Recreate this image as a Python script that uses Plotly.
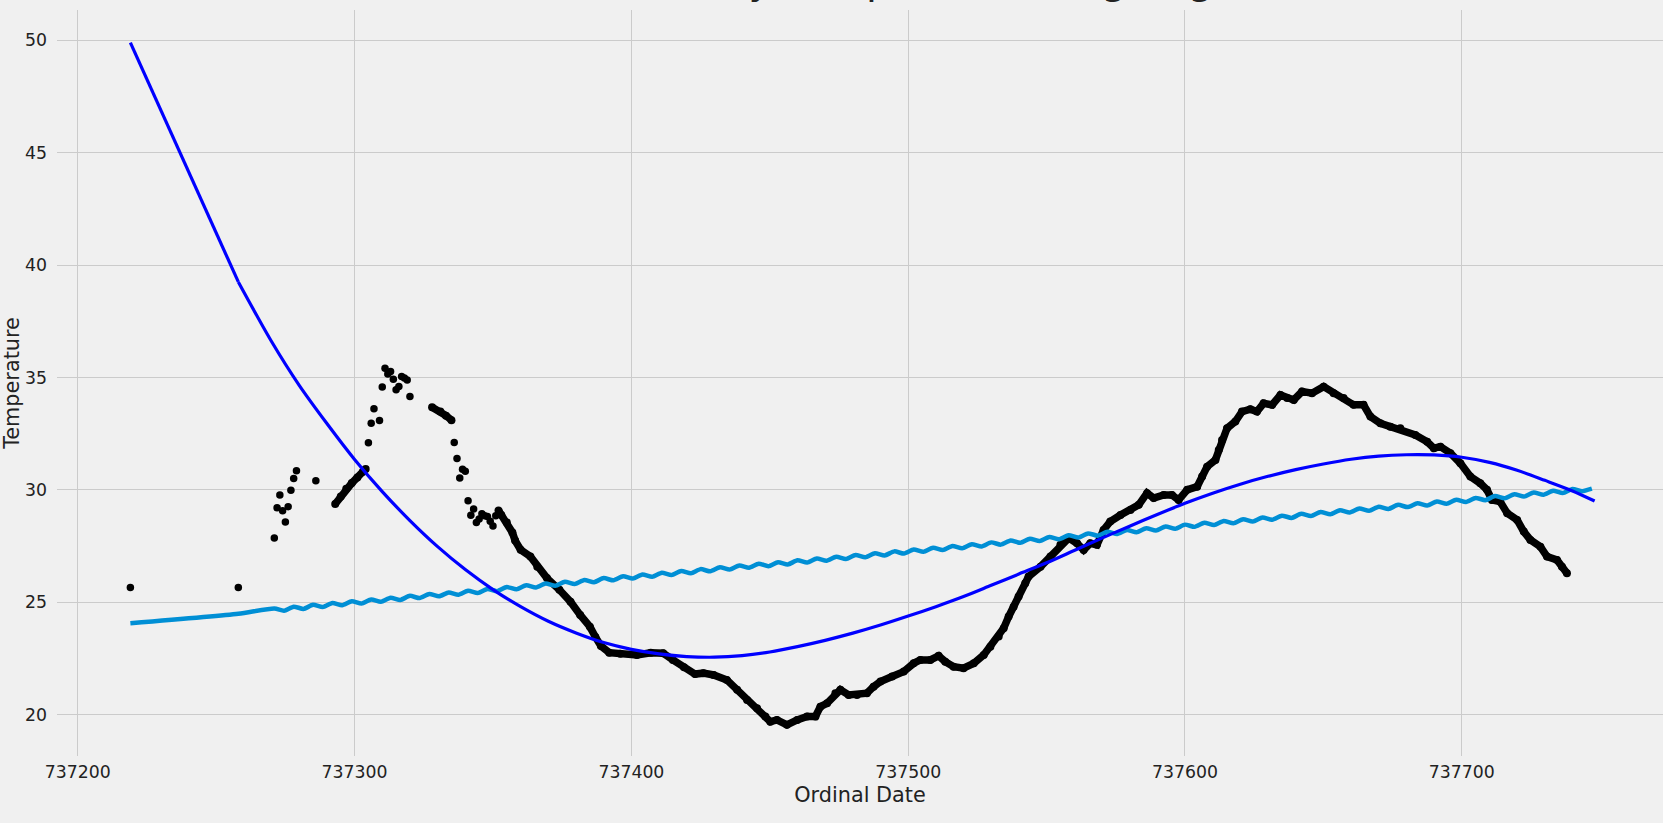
import plotly.graph_objects as go

# ---------------- data ----------------
# isolated (non-continuous) observed points
sparse_x = [737219, 737258, 737271, 737272, 737273, 737274, 737275, 737276, 737277, 737278,
            737279, 737286, 737305, 737306, 737307, 737309, 737310, 737311, 737312, 737313,
            737314, 737315, 737316, 737317, 737318, 737319, 737320, 737336, 737337, 737338,
            737339, 737340, 737341, 737342, 737343, 737344, 737345, 737346, 737347, 737348,
            737349, 737350, 737351]
sparse_y = [25.65, 25.65, 27.85, 29.2, 29.77, 29.07, 28.57, 29.25, 29.98, 30.5,
            30.85, 30.4, 32.09, 32.96, 33.61, 33.08, 34.58, 35.41, 35.15, 35.26,
            34.92, 34.45, 34.6, 35.04, 34.98, 34.89, 34.15, 32.1, 31.39, 30.53,
            30.92, 30.83, 29.51, 28.87, 29.14, 28.54, 28.7, 28.93, 28.85, 28.81,
            28.6, 28.39, 28.85]

# dense (daily) observed stretches, read along the dotted band
chainA_x = [737293, 737295, 737297, 737299, 737301, 737303, 737304]
chainA_y = [29.37, 29.7, 30.05, 30.3, 30.55, 30.8, 30.93]
chainB_x = [737328, 737331, 737333, 737335]
chainB_y = [33.67, 33.48, 33.3, 33.1]
chainC_x = [737352, 737353, 737355, 737357, 737358, 737360, 737363.5, 737366, 737369.5, 737374,
            737378, 737381.5, 737385, 737387, 737389, 737392, 737396, 737402, 737407, 737411.5,
            737415, 737419, 737423, 737426, 737429.7, 737434.5, 737438.2, 737441.8, 737445.4, 737448.4,
            737450.2, 737452.6, 737456.2, 737459.9, 737463.5, 737466.5, 737468.3, 737470.7, 737473.7, 737475.5,
            737478.5, 737481.5, 737485.1, 737487.5, 737490, 737494.2, 737498.4, 737502, 737504.4, 737508,
            737511, 737513.4, 737516.4, 737520, 737523.7, 737527.3, 737529.7, 737532.7, 737534.5, 737536.3,
            737538.1, 737539.9, 737542.3, 737543.5, 737547.8, 737551.4, 737555, 737558, 737561, 737563.4,
            737565.8, 737568.2, 737570.6, 737573, 737576.7, 737580.3, 737583.3, 737586.3, 737588.7, 737592.3,
            737595.3, 737597.7, 737600.8, 737604.4, 737606.2, 737608, 737611, 737612.2, 737613.4, 737615.2,
            737618.2, 737620.6, 737623.6, 737626, 737628.4, 737631.5, 737634.5, 737636.9, 737639.3, 737642.3,
            737645.9, 737650.1, 737653.7, 737657.3, 737660.9, 737664.5, 737667, 737670.6, 737674.2, 737677.8,
            737683.2, 737687.5, 737689.9, 737692.3, 737695.9, 737699.5, 737703.1, 737706.7, 737709.1, 737710.9,
            737713.9, 737716.4, 737720, 737722.4, 737724.8, 737728.4, 737730.8, 737734.4, 737736.2, 737738]
chainC_y = [29.08, 28.88, 28.55, 28.1, 27.74, 27.33, 27.03, 26.58, 26.07, 25.55,
            25.02, 24.43, 23.91, 23.45, 23.05, 22.75, 22.7, 22.65, 22.75, 22.73,
            22.43, 22.1, 21.8, 21.84, 21.76, 21.54, 21.1, 20.65, 20.28, 19.91,
            19.68, 19.76, 19.54, 19.76, 19.91, 19.91, 20.35, 20.5, 20.95, 21.1,
            20.87, 20.87, 20.95, 21.24, 21.47, 21.69, 21.91, 22.28, 22.43, 22.43,
            22.61, 22.35, 22.13, 22.06, 22.28, 22.65, 23.02, 23.47, 23.84, 24.36,
            24.8, 25.25, 25.84, 26.14, 26.58, 27.03, 27.55, 27.85, 27.62, 27.32,
            27.62, 27.55, 28.21, 28.59, 28.88, 29.1, 29.33, 29.85, 29.63, 29.77,
            29.77, 29.55, 30.0, 30.14, 30.59, 31.03, 31.33, 31.77, 32.22, 32.74,
            33.04, 33.48, 33.59, 33.48, 33.85, 33.78, 34.22, 34.08, 34.0, 34.37,
            34.3, 34.59, 34.3, 34.08, 33.78, 33.78, 33.26, 32.96, 32.81, 32.74,
            32.44, 32.14, 31.85, 31.92, 31.63, 31.18, 30.59, 30.29, 30.0, 29.55,
            29.47, 28.96, 28.66, 28.14, 27.77, 27.47, 27.03, 26.88, 26.58, 26.29]

# polynomial fit (dark blue): straight first stretch over the data gap, then the curve
gap_x = [737219, 737258]
gap_y = [49.9, 39.25]
poly_x = [737258, 737270, 737280, 737290, 737300, 737310, 737320, 737330, 737340,
          737350, 737360, 737370, 737380, 737390, 737400, 737410, 737420, 737430, 737440,
          737450, 737460, 737470, 737480, 737490, 737500, 737510, 737520, 737530, 737540,
          737550, 737560, 737570, 737580, 737590, 737600, 737610, 737620, 737630, 737640,
          737650, 737660, 737670, 737680, 737690, 737700, 737710, 737720, 737730, 737740, 737748]
poly_y = [39.25, 36.6, 34.65, 32.95, 31.35, 29.92, 28.63, 27.47, 26.45,
          25.56, 24.8, 24.15, 23.63, 23.2, 22.9, 22.7, 22.58, 22.55, 22.62,
          22.78, 23.02, 23.3, 23.62, 23.98, 24.38, 24.8, 25.25, 25.75, 26.25,
          26.75, 27.3, 27.85, 28.38, 28.9, 29.4, 29.85, 30.25, 30.6, 30.9,
          31.15, 31.36, 31.5, 31.56, 31.55, 31.45, 31.22, 30.87, 30.42, 29.95, 29.5]

# second model (light blue): peaks / troughs of its weekly ripple
ripple_x = [737219, 737258] + [737271 + 3.5 * k for k in range(137)]
ripple_y = [24.06, 24.48,
            24.72, 24.62, 24.80, 24.70, 24.88, 24.78, 24.96, 24.86, 25.04, 24.94,
            25.12, 25.02, 25.20, 25.10, 25.28, 25.18, 25.36, 25.26, 25.43, 25.33,
            25.51, 25.41, 25.59, 25.49, 25.67, 25.57, 25.75, 25.65, 25.83, 25.73,
            25.91, 25.81, 25.99, 25.89, 26.07, 25.97, 26.15, 26.05, 26.23, 26.13,
            26.31, 26.21, 26.39, 26.29, 26.47, 26.37, 26.55, 26.45, 26.63, 26.53,
            26.71, 26.60, 26.78, 26.68, 26.86, 26.76, 26.94, 26.84, 27.02, 26.92,
            27.10, 27.00, 27.18, 27.08, 27.26, 27.16, 27.34, 27.24, 27.42, 27.32,
            27.50, 27.40, 27.58, 27.48, 27.66, 27.56, 27.74, 27.64, 27.82, 27.72,
            27.90, 27.80, 27.98, 27.88, 28.06, 27.96, 28.13, 28.03, 28.21, 28.11,
            28.29, 28.19, 28.37, 28.27, 28.45, 28.35, 28.53, 28.43, 28.61, 28.51,
            28.69, 28.59, 28.77, 28.67, 28.85, 28.75, 28.93, 28.83, 29.01, 28.91,
            29.09, 28.99, 29.17, 29.07, 29.25, 29.15, 29.33, 29.23, 29.40, 29.30,
            29.48, 29.38, 29.56, 29.46, 29.64, 29.54, 29.72, 29.62, 29.80, 29.70,
            29.88, 29.78, 29.96, 29.86, 30.04, 29.94, 30.05]

x_ticks = [737200, 737300, 737400, 737500, 737600, 737700]
y_ticks = [20, 25, 30, 35, 40, 45, 50]

title_text = "Weather, Actual Data by Temp and Rolling Avg"
x_label = "Ordinal Date"
y_label = "Temperature"

# ---------------- figure ----------------
BG = "#f0f0f0"
GRID = "#cbcbcb"
FONT = "DejaVu Sans"

chain_x = chainA_x + [None] + chainB_x + [None] + chainC_x
chain_y = chainA_y + [None] + chainB_y + [None] + chainC_y

fig = go.Figure()
fig.add_trace(go.Scatter(x=sparse_x, y=sparse_y, mode="markers",
                         marker=dict(color="black", size=7.5, line=dict(width=0)),
                         showlegend=False, hoverinfo="skip"))
fig.add_trace(go.Scatter(x=chain_x, y=chain_y, mode="lines+markers", connectgaps=False,
                         line=dict(color="black", width=7.5),
                         marker=dict(color="black", size=8, line=dict(width=0)),
                         showlegend=False, hoverinfo="skip"))
fig.add_trace(go.Scatter(x=ripple_x, y=ripple_y, mode="lines",
                         line=dict(color="#008fd5", width=4.5, shape="spline", smoothing=0.6),
                         showlegend=False, hoverinfo="skip"))
fig.add_trace(go.Scatter(x=gap_x, y=gap_y, mode="lines",
                         line=dict(color="#0000ff", width=3.2),
                         showlegend=False, hoverinfo="skip"))
fig.add_trace(go.Scatter(x=poly_x, y=poly_y, mode="lines",
                         line=dict(color="#0000ff", width=3.2, shape="spline", smoothing=0.8),
                         showlegend=False, hoverinfo="skip"))

L, R, T, B = 57, 0, 10, 67
W, H = 1663, 823
plot_h = H - T - B

fig.update_layout(
    width=W, height=H,
    margin=dict(l=L, r=R, t=T, b=B, pad=0),
    paper_bgcolor=BG, plot_bgcolor=BG,
    font=dict(family=FONT, color="#222222", size=17.3),
    showlegend=False,
    annotations=[dict(
        text=title_text, xref="paper", yref="paper",
        x=(281 - L) / (W - L - R), y=1 + 6.0 / plot_h,
        xanchor="left", yanchor="bottom", showarrow=False,
        font=dict(family=FONT, size=40, color="#222222"))],
)
fig.update_xaxes(
    range=[737192.49, 737772.7], tickvals=x_ticks, ticktext=[str(v) for v in x_ticks],
    showgrid=True, gridcolor=GRID, gridwidth=1.3, zeroline=False, showline=False,
    ticks="", ticklabelstandoff=4,
    tickfont=dict(family=FONT, size=17.3, color="#222222"),
    title=dict(text=x_label, font=dict(family=FONT, size=20.8, color="#222222"), standoff=6),
)
fig.update_yaxes(
    range=[18.153, 51.353], tickvals=y_ticks, ticktext=[str(v) for v in y_ticks],
    showgrid=True, gridcolor=GRID, gridwidth=1.3, zeroline=False, showline=False,
    ticks="", ticklabelstandoff=9,
    tickfont=dict(family=FONT, size=17.3, color="#222222"),
    title=dict(text=y_label, font=dict(family=FONT, size=20.8, color="#222222"), standoff=6),
)

fig.write_html("out.html")
